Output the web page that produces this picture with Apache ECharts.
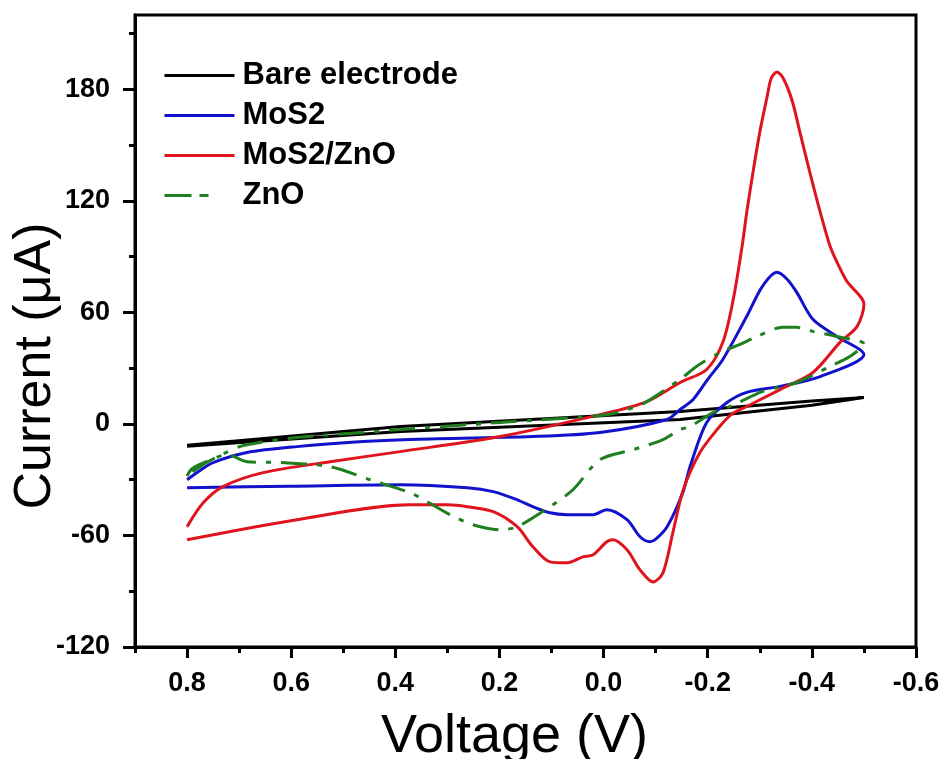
<!DOCTYPE html>
<html>
<head>
<meta charset="utf-8">
<script src="https://cdn.jsdelivr.net/npm/echarts@6/dist/echarts.min.js"></script>
<style>
  html, body { margin: 0; padding: 0; background: #fff; }
  #chart { width: 947px; height: 759px; }
</style>
</head>
<body>
<div id="chart"></div>
<script>
// Axis ticks
const voltageTicks = [0.8, 0.6, 0.4, 0.2, 0.0, -0.2, -0.4, -0.6];
const voltageMinorTicks = [0.9, 0.7, 0.5, 0.3, 0.1, -0.1, -0.3, -0.5];
const currentTicks = [-120, -60, 0, 60, 120, 180];
const currentMinorTicks = [-90, -30, 30, 90, 150, 210];

const seriesNames = ['Bare electrode', 'MoS2', 'MoS2/ZnO', 'ZnO'];

// Cyclic voltammograms: [voltage (V), current (µA)] in scan order
const bareElectrode = [
  [0.8, -12], [0.39, -4.1], [-0.147, 2.4], [-0.4, 10], [-0.5, 14.2],
  [-0.4, 12.3], [-0.147, 6.7], [0.39, -1.4], [0.8, -11.5]
];

const mos2 = [
  [0.8, -30], [0.775, -25], [0.75, -20.8], [0.685, -15.4], [0.589, -12.2],
  [0.462, -9.5], [0.372, -8.4], [0.136, -6.8], [0.007, -4.6], [-0.122, 2.4],
  [-0.147, 7.8], [-0.172, 13.2], [-0.2, 24], [-0.229, 34.7], [-0.275, 57.9],
  [-0.305, 74], [-0.333, 81.6], [-0.352, 78], [-0.371, 70.8], [-0.402, 56.3],
  [-0.448, 47.1], [-0.5, 37.4], [-0.416, 25.5], [-0.339, 20.2], [-0.275, 17],
  [-0.237, 11.5], [-0.198, 0.8], [-0.166, -23], [-0.152, -37], [-0.122, -55.3],
  [-0.1, -62], [-0.089, -63.4], [-0.07, -60.7], [-0.045, -51.5], [-0.006, -46.1],
  [0.02, -48.8], [0.07, -48.8], [0.103, -47.8], [0.136, -44.5], [0.166, -40.8],
  [0.212, -36.4], [0.262, -34.3], [0.391, -32.7], [0.6, -33.5], [0.8, -34.3]
];

const mos2Zno = [
  [0.8, -62.3], [0.589, -51.5], [0.372, -43.5], [0.3, -43.5], [0.262, -44.5],
  [0.212, -47.2], [0.166, -55.3], [0.136, -66], [0.103, -74.2], [0.07, -74.7],
  [0.04, -71.5], [0.02, -70.4], [-0.006, -63.4], [-0.018, -62.3], [-0.045, -67.7],
  [-0.07, -78.5], [-0.095, -85], [-0.114, -80.1], [-0.133, -58.5], [-0.153, -35.4],
  [-0.185, -15.4], [-0.218, -3], [-0.245, 5], [-0.275, 9.4], [-0.339, 18.5],
  [-0.402, 27.7], [-0.454, 43.9], [-0.487, 52.5], [-0.5, 64.4], [-0.467, 76.8],
  [-0.45, 86], [-0.435, 95.6], [-0.416, 114], [-0.396, 135.5], [-0.377, 157],
  [-0.362, 174], [-0.345, 186], [-0.333, 189.4], [-0.322, 186], [-0.314, 176],
  [-0.3, 157], [-0.287, 135.5], [-0.275, 114], [-0.266, 95.6], [-0.249, 67],
  [-0.229, 43.9], [-0.198, 29.3], [-0.147, 22.3], [-0.083, 12], [0.007, 5],
  [0.199, -6.8], [0.391, -14.9], [0.525, -20.3], [0.654, -26.2], [0.731, -33.7],
  [0.769, -42.4], [0.8, -55.3]
];

const zno = [
  [0.8, -28], [0.79, -24], [0.76, -20], [0.723, -16.5], [0.685, -20.3],
  [0.62, -20.8], [0.525, -23], [0.449, -30], [0.372, -37], [0.339, -41.8],
  [0.295, -48.8], [0.251, -54.2], [0.199, -56.9], [0.166, -55.3], [0.103, -44.5],
  [0.059, -35.4], [0.007, -19.2], [-0.057, -13.8], [-0.114, -8.4], [-0.147, -3],
  [-0.166, -1.4], [-0.21, 6.1], [-0.243, 9.4], [-0.306, 17.5], [-0.371, 22.3],
  [-0.435, 31], [-0.473, 36.3], [-0.5, 43], [-0.448, 47], [-0.402, 49.8],
  [-0.371, 52], [-0.344, 52], [-0.295, 47.1], [-0.262, 42.8], [-0.224, 38.5],
  [-0.179, 31], [-0.147, 24], [-0.083, 12], [-0.057, 8.8], [-0.006, 5],
  [0.199, 0.8], [0.391, -3], [0.462, -4.6], [0.589, -7.3], [0.69, -11.5],
  [0.73, -16], [0.77, -22], [0.8, -28]
];

const FONT = '"Liberation Sans", Arial, Helvetica, sans-serif';
const colors = ['#000000', '#1212cc', '#e0141c', '#1f7f1f'];
const znoDash = [26, 10, 5, 10];

const chart = echarts.init(document.getElementById('chart'), null, { renderer: 'canvas' });

const valueFmtV = v => (Math.abs(v) < 1e-9 ? 0 : v).toFixed(1);

const option = {
  backgroundColor: '#ffffff',
  animation: false,
  grid: {
    left: 135, right: 31, top: 15, bottom: 112,
    show: true, borderColor: '#000', borderWidth: 3,
    outerBoundsMode: 'none'
  },
  legend: {
    orient: 'vertical',
    left: 158, top: 55,
    itemWidth: 70, itemHeight: 14, itemGap: 9,
    itemStyle: { opacity: 0 },
    textStyle: { fontFamily: FONT, fontWeight: 'bold', fontSize: 31, color: '#000', padding: [0, 0, 0, 3] },
    data: [
      { name: seriesNames[0], lineStyle: { width: 3, color: colors[0], type: 'solid' } },
      { name: seriesNames[1], lineStyle: { width: 3, color: colors[1], type: 'solid' } },
      { name: seriesNames[2], lineStyle: { width: 3, color: colors[2], type: 'solid' } },
      { name: seriesNames[3], lineStyle: { width: 3, color: colors[3], type: [27, 8, 9, 100] } }
    ]
  },
  xAxis: [
    {
      type: 'value', gridIndex: 0, position: 'bottom',
      min: -0.6, max: 0.9, inverse: true,
      name: 'Voltage (V)', nameLocation: 'middle', nameGap: 63, nameMoveOverlap: false,
      nameTextStyle: { fontFamily: FONT, fontSize: 54, color: '#000', padding: [0, 22, 0, 0] },
      axisLine: { show: true, onZero: false, lineStyle: { color: '#000', width: 3 } },
      axisTick: { show: true, inside: false, length: 11, customValues: voltageTicks, lineStyle: { color: '#000', width: 3 } },
      axisLabel: { show: true, margin: 23, customValues: voltageTicks, formatter: valueFmtV,
        fontFamily: FONT, fontWeight: 'bold', fontSize: 27, color: '#000' },
      splitLine: { show: false }
    },
    {
      type: 'value', gridIndex: 0, position: 'bottom',
      min: -0.6, max: 0.9, inverse: true,
      axisLine: { show: false, onZero: false },
      axisTick: { show: true, inside: false, length: 6, customValues: voltageMinorTicks, lineStyle: { color: '#000', width: 3 } },
      axisLabel: { show: false },
      splitLine: { show: false }
    }
  ],
  yAxis: [
    {
      type: 'value', gridIndex: 0, position: 'left',
      min: -120, max: 220,
      name: 'Current (\u03bcA)', nameLocation: 'middle', nameGap: 73, nameMoveOverlap: false,
      nameTextStyle: { fontFamily: FONT, fontSize: 52, color: '#000', padding: [0, 70, 0, 0] },
      axisLine: { show: true, onZero: false, lineStyle: { color: '#000', width: 3 } },
      axisTick: { show: true, inside: false, length: 12, customValues: currentTicks, lineStyle: { color: '#000', width: 3 } },
      axisLabel: { show: true, margin: 25, customValues: currentTicks,
        fontFamily: FONT, fontWeight: 'bold', fontSize: 27, color: '#000' },
      splitLine: { show: false }
    },
    {
      type: 'value', gridIndex: 0, position: 'left',
      min: -120, max: 220,
      axisLine: { show: false, onZero: false },
      axisTick: { show: true, inside: false, length: 6, customValues: currentMinorTicks, lineStyle: { color: '#000', width: 3 } },
      axisLabel: { show: false },
      splitLine: { show: false }
    }
  ],
  series: [
    { name: seriesNames[0], type: 'line', data: bareElectrode, showSymbol: false, symbol: 'none',
      smooth: false, lineStyle: { color: colors[0], width: 3 }, itemStyle: { color: colors[0] }, z: 2 },
    { name: seriesNames[1], type: 'line', data: mos2, showSymbol: false, symbol: 'none',
      smooth: 0.3, lineStyle: { color: colors[1], width: 3 }, itemStyle: { color: colors[1] }, z: 3 },
    { name: seriesNames[2], type: 'line', data: mos2Zno, showSymbol: false, symbol: 'none',
      smooth: 0.3, lineStyle: { color: colors[2], width: 3 }, itemStyle: { color: colors[2] }, z: 4 },
    { name: seriesNames[3], type: 'line', data: zno, showSymbol: false, symbol: 'none',
      smooth: 0.3, lineStyle: { color: colors[3], width: 3, type: znoDash, cap: 'butt' }, itemStyle: { color: colors[3] }, z: 5 }
  ]
};

chart.setOption(option);
</script>
</body>
</html>
